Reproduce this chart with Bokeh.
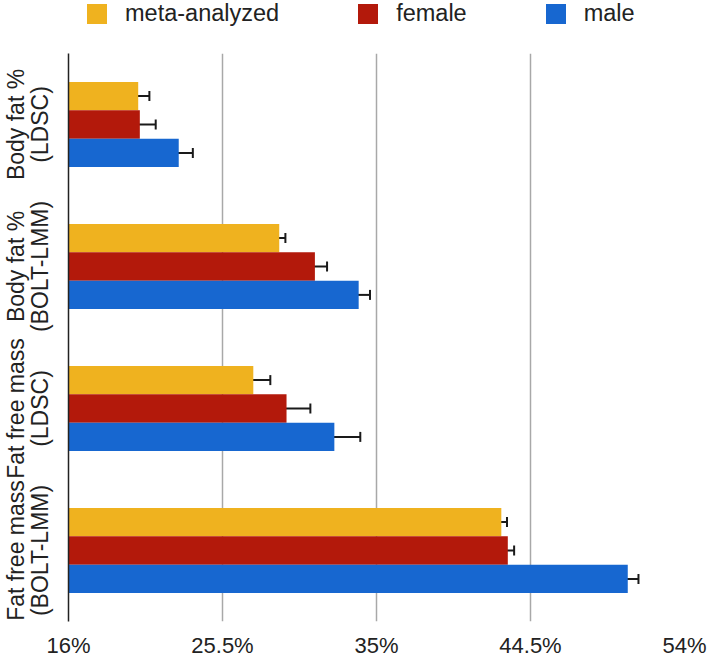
from bokeh.plotting import figure
from bokeh.layouts import column
from bokeh.models import (ColumnDataSource, FactorRange, FixedTicker, Legend,
                          LegendItem, Whisker, TeeHead)
from bokeh.transform import dodge
from bokeh.embed import file_html
from bokeh.resources import INLINE

categories = ["Body fat %\n(LDSC)", "Body fat %\n(BOLT-LMM)",
              "Fat free mass\n(LDSC)", "Fat free mass\n(BOLT-LMM)"]
series_names = ["meta-analyzed", "female", "male"]
meta = [20.3, 29.0, 27.4, 42.7]
meta_err = [0.69, 0.38, 1.05, 0.35]
female = [20.4, 31.2, 29.45, 43.1]
female_err = [0.98, 0.75, 1.47, 0.39]
male = [22.8, 33.9, 32.4, 50.5]
male_err = [0.87, 0.70, 1.60, 0.66]
x_ticks = [16, 25.5, 35, 44.5, 54]
tick_labels = ["16%", "25.5%", "35%", "44.5%", "54%"]
baseline = 16

colors = ["#EFB21F", "#B3190B", "#1767D0"]
offsets = [0.2, 0.0, -0.2]
FONT = "Liberation Sans"
TXT = "#222222"

# ---- legend strip (separate small figure above the chart) ----
lg = figure(width=709, height=53, output_backend="svg", toolbar_location=None,
            x_axis_type=None, y_axis_type=None, x_range=(0, 1), y_range=(0, 1))
lg.min_border = 0
lg.outline_line_color = None
lg.grid.visible = False
# zero-size proxy bars: they only provide the legend swatches
leg_renderers = [lg.hbar(y=[0], right=[0], left=[0], height=0, fill_color=c, line_color=None)
                 for c in colors]
legend = Legend(items=[LegendItem(label=n, renderers=[r]) for n, r in zip(series_names, leg_renderers)],
                orientation="horizontal", location=(16, 26),
                glyph_width=25, glyph_height=25, label_standoff=16, spacing=76,
                label_text_font_size="23.5px", label_text_font=FONT,
                label_text_color=TXT, border_line_color=None,
                background_fill_alpha=0, padding=0, margin=0)
lg.add_layout(legend, "center")

# ---- main chart ----
p = figure(width=709, height=607, output_backend="svg", toolbar_location=None,
           y_range=FactorRange(*reversed(categories)),
           x_range=(x_ticks[0], x_ticks[-1]))
p.min_border = 0
p.min_border_right = 25
p.outline_line_color = None

for name, vals, errs, col, off in zip(series_names, [meta, female, male],
                                      [meta_err, female_err, male_err],
                                      colors, offsets):
    src = ColumnDataSource(dict(cat=categories, val=vals,
                                lo=[v - e for v, e in zip(vals, errs)],
                                hi=[v + e for v, e in zip(vals, errs)]))
    p.hbar(y=dodge("cat", off, range=p.y_range), right="val", left=baseline,
           height=0.2, fill_color=col, line_color=None, source=src)
    w = Whisker(source=src, base=dodge("cat", off, range=p.y_range),
                lower="lo", upper="hi", dimension="width",
                line_color="#1a1a1a", line_width=2,
                upper_head=TeeHead(size=10, line_color="#1a1a1a", line_width=2),
                lower_head=TeeHead(size=10, line_color="#1a1a1a", line_width=2))
    p.add_layout(w)

p.xaxis.ticker = FixedTicker(ticks=x_ticks)
p.xaxis.major_label_overrides = dict(zip(x_ticks, tick_labels))
p.xaxis.axis_line_color = None
p.xaxis.major_tick_line_color = None
p.xaxis.minor_tick_line_color = None
p.xaxis.major_label_standoff = 5
p.xaxis.major_label_text_font_size = "22px"
p.xaxis.major_label_text_line_height = 1.0
p.xaxis.major_label_text_font = FONT
p.xaxis.major_label_text_color = TXT

p.xgrid.ticker = FixedTicker(ticks=x_ticks)
p.xgrid.grid_line_color = "#a8a8a8"
p.xgrid.grid_line_width = 1.5
p.ygrid.grid_line_color = None

p.yaxis.major_label_orientation = "vertical"
p.yaxis.major_tick_line_color = None
p.yaxis.minor_tick_line_color = None
p.yaxis.axis_line_color = "#222222"
p.yaxis.axis_line_width = 1.5
p.yaxis.major_label_standoff = 10
p.yaxis.major_label_text_font_size = "23px"
p.yaxis.major_label_text_line_height = 0.9
p.yaxis.major_label_text_font = FONT
p.yaxis.major_label_text_color = TXT

layout = column(lg, p, spacing=0)
open("out.html", "w").write(file_html(layout, INLINE))
